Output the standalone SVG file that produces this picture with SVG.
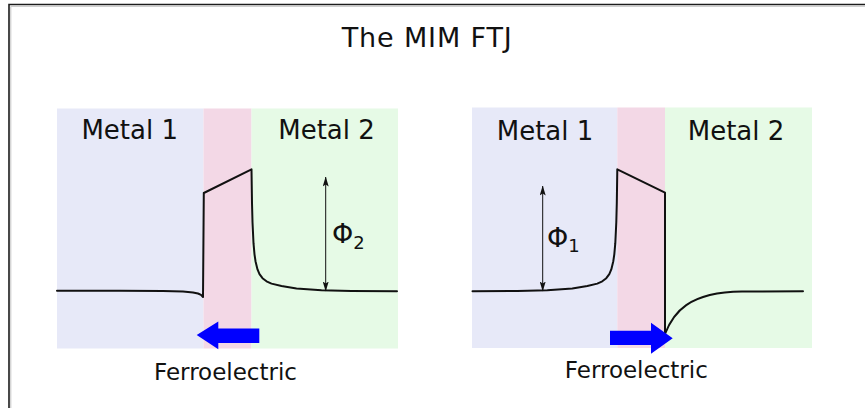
<svg xmlns="http://www.w3.org/2000/svg" width="865" height="408" viewBox="0 0 865 408">
  <defs>
    <style>
      text { font-family: "DejaVu Sans", Verdana, sans-serif; fill: #111; }
      .title { font-size: 27px; text-anchor: middle; }
      .metal { font-size: 26px; text-anchor: middle; }
      .fe { font-size: 23px; text-anchor: middle; }
      .phi { font-size: 27px; }
      .sub { font-size: 18px; }
      .m1 { fill: #e7e9f8; }
      .ins { fill: #f3d8e6; }
      .m2 { fill: #e6fae6; }
      .band { fill: none; stroke: #111; stroke-width: 2; stroke-linejoin: round; stroke-linecap: round; }
      .dim { stroke: #111; stroke-width: 1; fill: none; marker-start: url(#ah); marker-end: url(#ah); }
      .pol { fill: #0000ff; }
    </style>
    <marker id="ah" viewBox="0 0 10 6" refX="9.5" refY="3" markerWidth="10" markerHeight="6" markerUnits="userSpaceOnUse" orient="auto-start-reverse">
      <path d="M0,0 L10,3 L0,6 L2,3 z" fill="#111"/>
    </marker>
  </defs>

  <g id="frame">
    <path d="M9,408 V4.5 H865" fill="none" stroke="#1c1c1c" stroke-width="1.6"/>
    <path d="M10.8,408 V6.3 H865" fill="none" stroke="#c4c4c4" stroke-width="1"/>
  </g>

  <g id="title">
    <text class="title" x="426.7" y="46.7" textLength="170" lengthAdjust="spacing">The MIM FTJ</text>
  </g>

  <g id="panel-left">
    <rect class="m1" x="57" y="108.5" width="146.5" height="240"/>
    <rect class="ins" x="203.5" y="108.5" width="48" height="240"/>
    <rect class="m2" x="251.5" y="108.5" width="146.5" height="240"/>
    <text class="metal" x="129.7" y="139">Metal 1</text>
    <text class="metal" x="326.5" y="139">Metal 2</text>
    <path class="band" d="M57,290.7 L120,290.8 L163,291.1 L183,291.6 L193,292.4 L198,293.5 L201,294.9 L203,297 L203.8,193 L251.5,169.3 L252,203.1 L252.5,222.3 L253.5,243.2 L254.5,254.3 L255.5,261.2 L257.5,269.4 L259.5,274.1 L262.5,278.2 L266.5,281.3 L271.5,283.6 L281.5,286 L296.5,288.6 L321.5,290.2 L351.5,290.9 L397,291.3"/>
    <line class="dim" x1="325.7" y1="177" x2="325.7" y2="291"/>
    <text class="phi" x="332" y="243">Φ<tspan class="sub" dy="6">2</tspan></text>
    <polygon class="pol" points="196.7,335 218.3,321.5 218.3,328.5 259.3,328.5 259.3,343 218.3,343 218.3,349.3"/>
    <text class="fe" x="225.5" y="380">Ferroelectric</text>
  </g>

  <g id="panel-right">
    <rect class="m1" x="472" y="107.5" width="145.3" height="240.5"/>
    <rect class="ins" x="617.3" y="107.5" width="47.7" height="240.5"/>
    <rect class="m2" x="665" y="107.5" width="147" height="240.5"/>
    <text class="metal" x="545" y="140">Metal 1</text>
    <text class="metal" x="736" y="140">Metal 2</text>
    <path class="band" d="M472.5,291.3 L517.3,290.9 L547.3,290.2 L572.3,288.6 L587.3,286 L597.3,283.6 L602.3,281.3 L606.3,278.2 L609.3,274.1 L611.3,269.4 L613.3,261.2 L614.3,254.3 L615.3,243.2 L616.3,222.3 L616.8,203.1 L617.3,169.3 L665,192.7 L665,334 C673,313 688,292 742,291.5 L803,291.3"/>
    <line class="dim" x1="542.7" y1="186" x2="542.7" y2="291"/>
    <text class="phi" x="547" y="247">Φ<tspan class="sub" dy="5">1</tspan></text>
    <polygon class="pol" points="610,330.7 651,330.7 651,322.7 672.7,338.2 651,353.7 651,345 610,345"/>
    <text class="fe" x="636.3" y="378">Ferroelectric</text>
  </g>
</svg>
